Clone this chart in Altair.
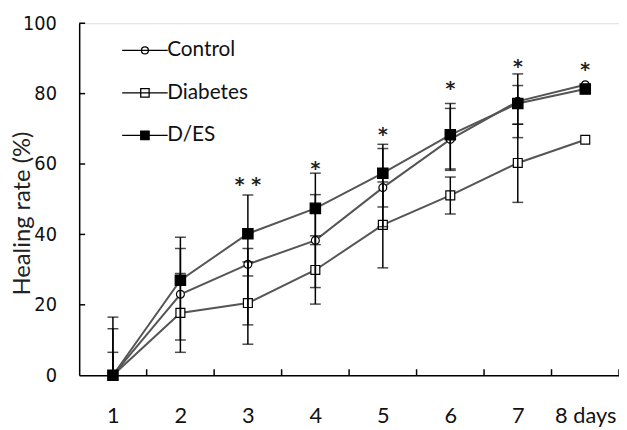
import altair as alt
import pandas as pd

# ---------------- data ----------------
days = [1, 2, 3, 4, 5, 6, 7, 8]
day_labels = ["1", "2", "3", "4", "5", "6", "7", "8 days"]
series_names = ["Control", "Diabetes", "D/ES"]

control = [0, 23.0, 31.5, 38.3, 53.3, 67.0, 77.8, 82.5]
diabetes = [0, 17.7, 20.5, 29.9, 42.7, 51.1, 60.3, 66.9]
des = [0, 27.0, 40.2, 47.4, 57.4, 68.3, 77.2, 81.3]

# error bar ends (lower / upper) as drawn
control_lo = [0, 10.0, 14.3, 24.9, 42.2, 58.2, 71.3, 82.5]
control_hi = [13.2, 36.0, 36.0, 51.3, 64.4, 75.8, 82.3, 82.5]
diabetes_lo = [0, 6.5, 8.8, 20.2, 30.5, 45.8, 49.1, 66.9]
diabetes_hi = [6.5, 28.9, 32.2, 39.6, 54.9, 56.3, 71.3, 66.9]
des_lo = [0, 27.0, 28.2, 37.1, 47.8, 58.6, 67.5, 81.3]
des_hi = [16.5, 39.2, 51.2, 57.4, 65.6, 77.2, 85.6, 81.3]

# significance stars
star_days = [3, 4, 5, 6, 7, 8]
star_text = ["* *", "*", "*", "*", "*", "*"]
star_y = [55.3, 60.1, 69.7, 82.6, 89.0, 88.2]

# axis structure
y_ticks = [0, 20, 40, 60, 80, 100]
x_tick_marks = [1.5, 2.5, 3.5, 4.5, 5.5, 6.5, 7.5, 8.5]

# marker styles per series
marker_shape = {"Control": "circle", "Diabetes": "square", "D/ES": "square"}
marker_fill = {"Control": "white", "Diabetes": "white", "D/ES": "black"}
marker_size = {"Control": 64, "Diabetes": 81, "D/ES": 110}

# ---------------- tables ----------------
rows = []
for name, vals, lo, hi in [
    ("Control", control, control_lo, control_hi),
    ("Diabetes", diabetes, diabetes_lo, diabetes_hi),
    ("D/ES", des, des_lo, des_hi),
]:
    for d, v, l, h in zip(days, vals, lo, hi):
        rows.append({"series": name, "day": d, "value": v, "lo": l, "hi": h})
df = pd.DataFrame(rows)

caps = []
for r in rows:
    for c in (r["lo"], r["hi"]):
        if c != r["value"]:
            caps.append({"series": r["series"], "day": r["day"], "cap": c})
caps_df = pd.DataFrame(caps)

stars_df = pd.DataFrame({"day": star_days, "y": star_y, "t": star_text})
xt_df = pd.DataFrame({"t": x_tick_marks})
yt_df = pd.DataFrame({"v": [v for v in y_ticks if v > 0]})

W, H = 546, 356
FONT = "Lato"

x_scale = alt.Scale(domain=[0.5, 8.5], nice=False, zero=False)
y_scale = alt.Scale(domain=[0, 100], nice=False)

label_expr = "datum.value == 8 ? '8 days' : format(datum.value, 'd')"

x_axis = alt.Axis(
    values=days, labelExpr=label_expr, ticks=False, tickSize=0, grid=False,
    domainColor="black", domainWidth=1.5, labelFont=FONT, labelFontSize=22,
    labelColor="#111", labelPadding=31, title=None, labelBaseline="top",
)
y_axis = alt.Axis(
    values=y_ticks, ticks=False, tickSize=0, grid=False,
    domainColor="black", domainWidth=1.5,
    labelFont="Liberation Sans Narrow, DejaVu Sans Condensed, sans-serif",
    labelFontSize=20, labelColor="#111", labelPadding=23,
    title="Healing rate (%)", titleFont=FONT, titleFontSize=24,
    titleFontWeight="normal", titleColor="#222", titleAngle=270,
    titleAlign="center", titleBaseline="middle", titleX=-57, titleY=192,
)

X = alt.X("day:Q", scale=x_scale, axis=x_axis)
Y = alt.Y("value:Q", scale=y_scale, axis=y_axis)

base = alt.Chart(df)

lines = base.mark_line(color="#555", strokeWidth=2).encode(
    x=X, y=Y, detail="series:N"
)

point_layers = []
for name in series_names:
    point_layers.append(
        base.transform_filter(alt.datum.series == name).mark_point(
            shape=marker_shape[name], filled=True, fill=marker_fill[name],
            stroke="black", strokeWidth=1.2, size=marker_size[name], opacity=1,
        ).encode(x=alt.X("day:Q", scale=x_scale), y=alt.Y("value:Q", scale=y_scale))
    )

err = base.transform_filter("datum.lo < datum.hi").mark_rule(color="black", strokeWidth=1.5).encode(
    x=alt.X("day:Q", scale=x_scale), y=alt.Y("lo:Q", scale=y_scale), y2="hi:Q"
)

cap_marks = alt.Chart(caps_df).mark_tick(orient="horizontal", color="black", thickness=1.5, size=11).encode(
    x=alt.X("day:Q", scale=x_scale), y=alt.Y("cap:Q", scale=y_scale)
)

xticks = alt.Chart(xt_df).mark_rule(color="black", strokeWidth=1.5).encode(
    x=alt.X("t:Q", scale=x_scale), y=alt.value(H), y2=alt.value(H - 6)
)
yticks = alt.Chart(yt_df).mark_rule(color="black", strokeWidth=1.5).encode(
    y=alt.Y("v:Q", scale=y_scale), x=alt.value(0), x2=alt.value(6)
)

stars = alt.Chart(stars_df).mark_text(
    font="DejaVu Sans", fontSize=19, fontWeight="bold", baseline="alphabetic", dy=11, color="#222"
).encode(x=alt.X("day:Q", scale=x_scale), y=alt.Y("y:Q", scale=y_scale), text="t:N")

# legend: custom symbol paths (line through marker)
path_circle = "M-4.6,0H4.6M-0.7,0A0.7,0.7,0,1,0,0.7,0A0.7,0.7,0,1,0,-0.7,0Z"
path_square = "M-4.6,0H4.6M-0.85,-0.85H0.85V0.85H-0.85Z"
leg = alt.Legend(
    title=None, orient="none", legendX=56, legendY=17, padding=0,
    labelFont=FONT, labelFontSize=21, labelColor="#111", labelOffset=12,
    rowPadding=21, symbolSize=100, symbolStrokeWidth=1.3,
)
legend_layer = base.transform_filter("false").mark_point(
    filled=True, strokeWidth=1.3, size=100, opacity=1
).encode(
    x=alt.X("day:Q", scale=x_scale), y=alt.Y("value:Q", scale=y_scale),
    shape=alt.Shape("series:N", scale=alt.Scale(domain=series_names, range=[path_circle, path_square, path_square]), legend=leg),
    fill=alt.Fill("series:N", scale=alt.Scale(domain=series_names, range=["white", "white", "black"]), legend=leg),
    stroke=alt.Stroke("series:N", scale=alt.Scale(domain=series_names, range=["black", "black", "black"]), legend=leg),
)

chart = alt.layer(
    lines, *point_layers, err, cap_marks, xticks, yticks, stars, legend_layer
).properties(
    width=W, height=H,
    padding={"left": 72, "top": 13, "right": 0, "bottom": 51},
    autosize="none",
).configure_view(stroke=None).configure(background="white")

chart.save("out.html", embed_options={"renderer": "svg", "actions": False})
